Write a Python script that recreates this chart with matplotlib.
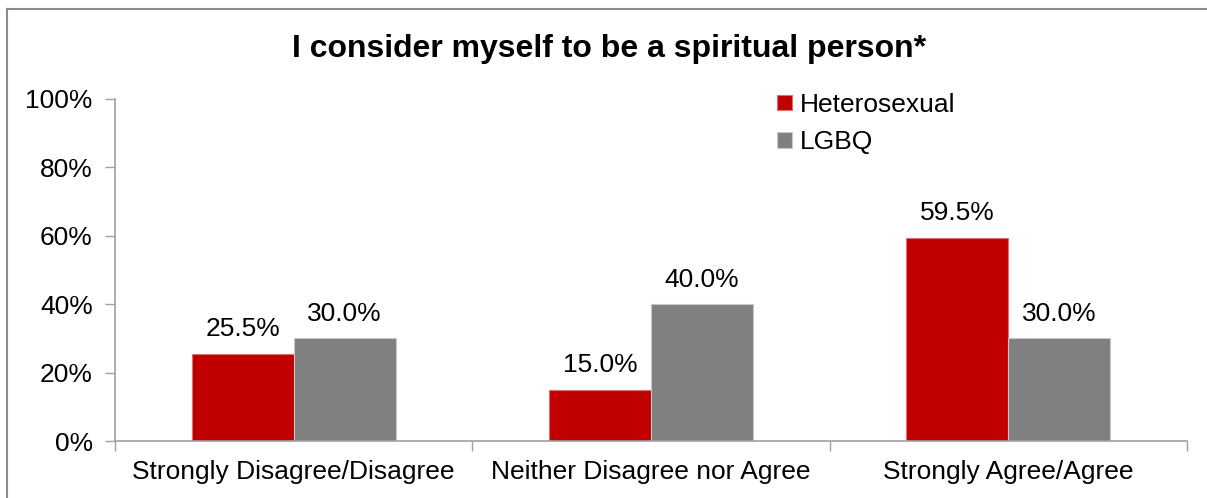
import matplotlib
matplotlib.use("Agg")
import matplotlib.pyplot as plt
from matplotlib.lines import Line2D
import numpy as np

plt.rcParams['font.family'] = ['Liberation Sans', 'DejaVu Sans']

categories = ["Strongly Disagree/Disagree", "Neither Disagree nor Agree", "Strongly Agree/Agree"]
series_names = ["Heterosexual", "LGBQ"]
hetero = [25.5, 15.0, 59.5]
lgbq = [30.0, 40.0, 30.0]
yticks = [0, 20, 40, 60, 80, 100]
title = "I consider myself to be a spiritual person*"

W, H = 1207, 498
fig = plt.figure(figsize=(W / 100, H / 100), dpi=100)
ax = fig.add_axes([115 / W, (H - 441) / H, (1187 - 115) / W, (441 - 99) / H])

x = np.arange(len(categories))
bw = 0.285
colors = ["#C00000", "#808080"]
edges = ["#E07070", "#C8C8C8"]
b1 = ax.bar(x - bw / 2, hetero, bw, color=colors[0], edgecolor=edges[0], linewidth=0.8, label=series_names[0])
b2 = ax.bar(x + bw / 2, lgbq, bw, color=colors[1], edgecolor=edges[1], linewidth=0.8, label=series_names[1])

for bars, vals in ((b1, hetero), (b2, lgbq)):
    for r, v in zip(bars, vals):
        ax.annotate(f"{v:.1f}%", (r.get_x() + r.get_width() / 2, v), xytext=(0, 9),
                    textcoords="offset points", ha="center", va="bottom", fontsize=19)

ax.set_xlim(-0.5, len(categories) - 0.5)
ax.set_ylim(0, 100)
ax.set_yticks(yticks)
ax.set_yticklabels([f"{t}%" for t in yticks], fontsize=19)
ax.set_xticks(x)
ax.set_xticklabels(categories, fontsize=19)
ax.tick_params(axis='x', length=0, pad=14)
ax.tick_params(axis='y', length=7, width=1, color="#A0A0A0", pad=9)
# category boundary ticks
ax.set_xticks(np.arange(len(categories) + 1) - 0.5, minor=True)
ax.tick_params(axis='x', which='minor', length=7, width=1, color="#A0A0A0", direction='out')

for s in ["top", "right"]:
    ax.spines[s].set_visible(False)
for s in ["left", "bottom"]:
    ax.spines[s].set_color("#A0A0A0")
    ax.spines[s].set_linewidth(1.2)

fig.text(0.5 + 6 / W, 1 - 49 / H, title, ha="center", va="center", fontsize=23, fontweight="bold")

leg = ax.legend(loc="upper left", bbox_to_anchor=((777 - 115) / (1187 - 115), 1.018), frameon=False,
                fontsize=19, handlelength=0.55, handleheight=0.55, handletextpad=0.3, labelspacing=0.5,
                borderaxespad=0, borderpad=0)

# outer border (left and top visible)
fig.add_artist(Line2D([7 / W, 7 / W], [0, 1 - 9 / H], transform=fig.transFigure, color="#8C8C8C", lw=1.5))
fig.add_artist(Line2D([7 / W, 1], [1 - 9 / H, 1 - 9 / H], transform=fig.transFigure, color="#8C8C8C", lw=1.5))

fig.savefig("out.png", dpi=100)
